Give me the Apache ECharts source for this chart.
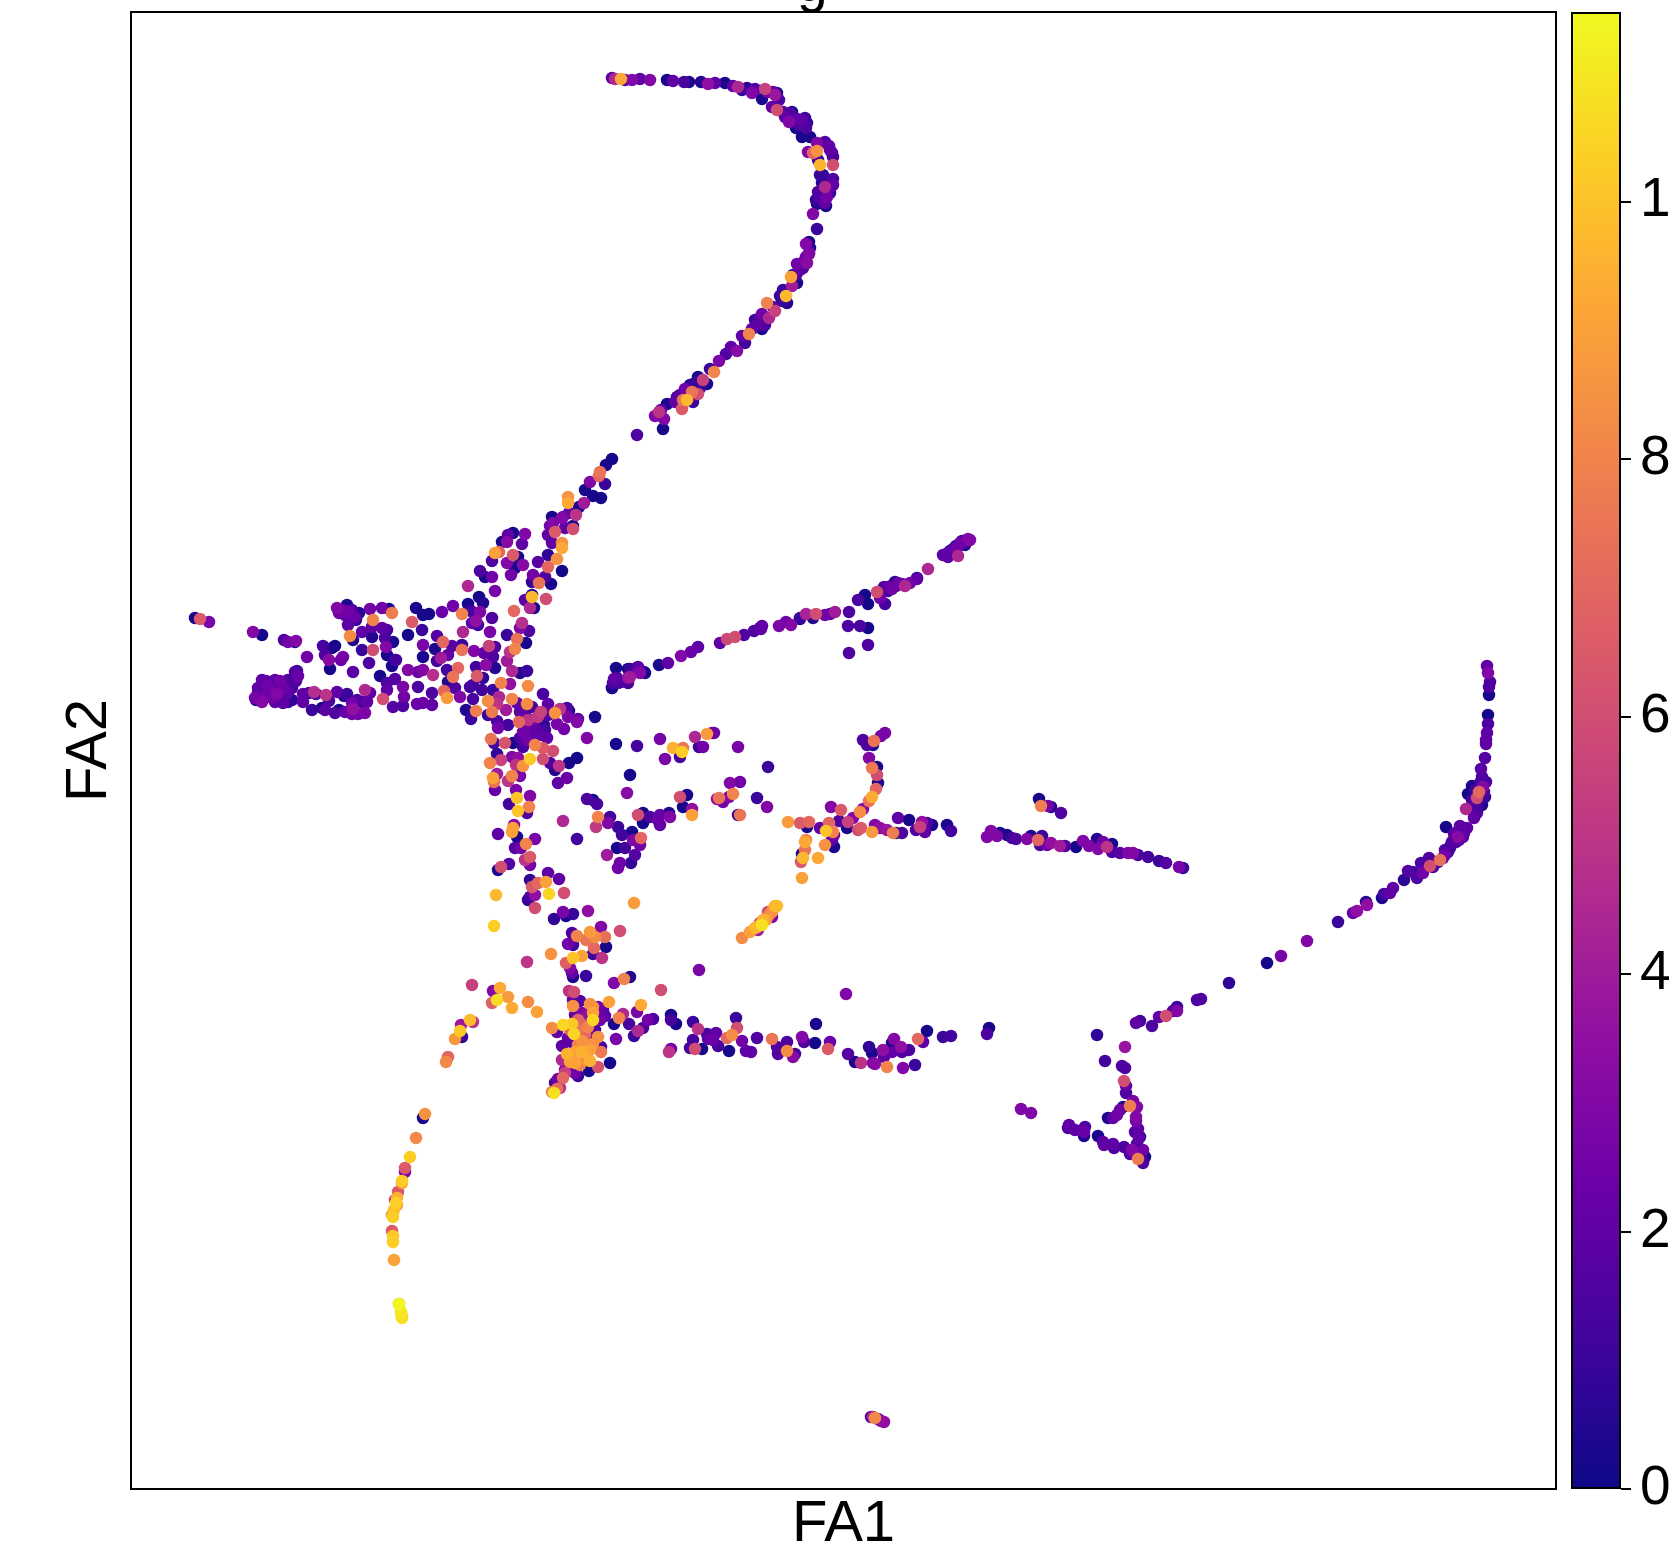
<!DOCTYPE html>
<html><head><meta charset="utf-8">
<style>html,body{margin:0;padding:0;background:#fff;overflow:hidden}#c{width:1672px;height:1552px}</style>
<script src="https://cdn.jsdelivr.net/npm/echarts@6/dist/echarts.min.js"></script>
</head><body><div id="c"></div>
<script>
// each cell: [FA1, FA2, expression]
const topArc=[[612,78,2],[615,79,4.5],[621,79,9.2],[625,80,1.5],[632,80,3],[640,79,2],[650,80,3],[667,80,.3],[673,81,2],[684,82,1.3],[689,82,.3],[701,82,.5],[708,84,3.5],[715,83,2],[725,83,.3],[733,86,2],[738,87,4.5],[747,88,.8],[752,93,3],[755,89,1.5],[762,99,.3],[765,89,5.5],[773,92,2],[775,95,3.8],[777,93,.5],[772,107,2],[777,110,6],[783,112,1.5],[790,113,1.5],[792,112,.3],[789,122,3],[797,119,2],[802,120,2],[807,123,1],[806,128,1.5],[796,128,.3],[802,137,.2],[810,137,.3],[817,143,3],[825,142,1.5],[808,152,3],[813,153,7],[817,151,8.5],[830,150,2],[833,157,1.5],[818,160,1],[820,165,9.6],[833,165,6],[820,175,1],[822,183,.5],[833,179,1.5],[833,185,2],[825,187,4.5],[818,192,1.5],[830,193,1],[827,197,2.5],[816,200,.8],[825,203,2],[817,204,.5],[826,206,.3],[813,214,3],[817,229,1],[809,242,.3],[806,244,3],[810,248,.5],[809,253,3],[800,125,1.5],[805,118,1],[779,100,1.5],[768,92,2.5],[742,90,1],[822,195,1.5],[828,188,2],[820,198,1.5],[823,175,1],[829,146,2],[832,153,1.5],[785,117,2]];
const midArc=[[809,254,2.5],[807,263,3.3],[797,264,2.5],[803,268,1.5],[793,275,.3],[791,277,9],[797,283,.3],[792,286,4],[783,290,1],[786,296,9.7],[782,301,1],[767,303,8],[773,307,1.8],[775,311,5.5],[762,314,2.5],[769,318,4.5],[759,322,1],[765,325,1.5],[762,329,.3],[752,329,2],[749,334,8],[742,336,2],[745,343,1.2],[731,347,2],[737,351,3.2],[726,354,1.5],[719,361,2.8],[710,369,1],[714,372,8],[698,377,.3],[703,380,5.5],[707,384,.3],[695,383,1],[685,389,2.5],[677,397,1.5],[692,392,7.5],[698,394,6],[683,400,7.5],[687,400,9.7],[682,409,6.5],[693,402,1],[667,404,.2],[661,410,2],[655,416,3],[659,412,5],[664,419,3],[663,429,.2],[637,435,1.5],[612,459,.2],[606,465,.2],[600,472,7.5],[599,476,7],[590,482,3],[605,484,1],[585,490,.2],[593,496,.2],[601,498,.2],[568,497,8.5],[568,503,9.2],[584,503,4],[579,507,.3],[569,513,2],[576,515,5],[562,518,3],[552,517,.2],[553,523,3],[550,526,2.5],[555,532,6.5],[573,529,6],[565,528,2],[573,526,.3],[760,318,1.5],[757,325,2],[755,320,1],[700,388,1],[693,396,1.5],[680,395,1.8],[675,402,2],[690,385,.5],[780,296,1],[787,303,.5],[796,275,1.5],[800,270,2],[805,260,2],[806,257,2.5]];
const junctionTop=[[563,517,2.5],[548,535,2],[552,543,2],[562,543,8.5],[562,548,9.2],[548,555,.8],[557,559,8.5],[538,562,1.8],[548,567,7],[562,571,.2],[533,575,2.5],[545,577,1.5],[532,582,.8],[539,583,7.5],[551,584,.3],[513,533,.2],[508,535,2],[525,534,3],[507,542,3.2],[502,542,.2],[522,544,2],[499,552,7],[495,553,9],[513,555,6.5],[518,557,.3],[507,563,3],[492,561,1.5],[515,568,.3],[523,565,3.2],[480,571,1.5],[485,577,.2],[492,577,2.5],[511,575,2.5],[468,586,4.5],[495,591,2.7],[532,595,.5],[532,597,9.7],[546,599,6],[525,600,1.8],[534,608,.3],[530,608,4.5],[514,611,7],[479,597,.2],[483,603,.5],[468,604,.2],[453,606,2.5],[442,612,2.3],[462,614,8],[471,611,1.3],[480,612,3],[492,618,1.5],[472,623,2],[478,625,1.2],[476,621,3.5],[522,623,4.8],[520,628,3],[529,631,1.5],[490,632,2.7],[463,632,4.5],[507,635,1],[517,639,7.5],[526,643,.2],[515,649,8],[510,652,5],[489,646,5.5],[495,647,1.5],[484,653,2],[474,651,3],[493,657,1.5],[507,661,4],[486,665,3.3],[495,668,.5],[476,667,1.2],[527,671,1],[512,671,4.5],[520,673,.5],[483,678,.8],[477,676,6.5],[473,685,1.3],[482,690,1.2],[528,686,8.3],[501,683,8],[510,684,3.5],[493,690,1],[499,697,4.5]];
const leftWing=[[337,608,3],[347,605,.3],[348,612,2.5],[359,613,.5],[370,609,2.5],[382,608,2.5],[389,609,.3],[392,613,7.8],[339,613,2.5],[348,625,2],[373,620,8],[372,627,2],[382,628,2],[387,630,1.5],[362,632,2],[350,636,8.3],[353,640,.5],[372,637,.5],[385,638,1.5],[393,642,.3],[386,647,3],[362,650,1],[373,650,6],[387,655,.3],[396,660,1.3],[369,663,1.5],[392,666,.3],[323,646,1.3],[335,646,.2],[332,648,.3],[307,657,2.5],[325,655,1.5],[329,660,3.2],[343,657,2.6],[341,660,2.3],[330,669,.2],[353,672,1.8],[416,608,.2],[423,615,.2],[429,614,.2],[412,622,6.5],[422,630,1],[408,635,.2],[437,636,1.7],[423,645,2.7],[443,642,7],[435,649,.4],[452,646,1.8],[462,645,1],[462,650,7.5],[441,658,4],[423,657,.3],[448,655,2],[437,661,1.2],[395,660,.8],[447,670,1.2],[458,668,7],[380,676,.2],[395,679,1.7],[408,670,3],[418,672,2.5],[423,670,3],[433,675,4.8],[453,677,7.5],[448,682,.5],[403,687,2.8],[387,683,1.5],[418,687,1.5],[387,690,2],[432,693,1.5],[404,697,2.5],[444,691,7],[455,688,1.5],[447,698,8.8],[460,697,3],[383,699,6],[393,707,1.7],[403,706,1.5],[417,704,2.3],[423,703,2.3],[432,705,2],[473,699,1.3],[470,687,1.3],[342,610,2.5],[345,615,2],[352,610,1.5],[355,617,2.2],[356,620,1]];
const farLeft=[[195,618,.2],[200,619,6.5],[209,622,2.7],[253,632,3],[262,635,.2],[284,640,1.5],[288,642,2.5],[296,641,3],[295,642,.2],[258,694,1.8],[262,689,1.5],[268,686,2.5],[275,680,2],[265,697,2.5],[280,681,2.5],[277,694,3],[283,688,2.3],[285,690,1.5],[288,680,1.5],[256,700,.8],[258,693,1.5],[255,698,2.6],[262,702,3],[275,702,1.8],[283,703,2],[278,698,2],[285,697,1.3],[288,702,.9],[295,672,1.5],[298,676,2.3],[297,671,1.2],[296,681,1.6],[288,692,2],[292,700,.7],[303,694,2],[309,693,1.3],[314,692,4.8],[303,702,2],[316,694,1.5],[322,708,.3],[312,710,1],[325,710,1.8],[335,713,1.5],[329,701,1.5],[339,710,.2],[337,692,2],[326,695,5],[344,696,.5],[347,694,1],[352,703,2.5],[357,700,1.5],[367,702,2],[362,702,1],[345,712,2.2],[352,714,2.5],[358,714,2.6],[365,713,2.8],[365,690,4.5],[370,693,2],[353,709,3.5],[262,680,2],[268,692,2.2],[272,698,2.5],[270,685,1.8],[276,690,2.2],[281,695,2],[278,686,1.5],[258,688,2],[266,681,1.5],[292,688,1.2]];
const junctionMid=[[466,710,.4],[476,711,7.8],[471,719,1],[488,701,8.3],[492,712,7.7],[497,704,5],[506,710,4],[512,699,8],[527,704,8.3],[517,703,2],[488,715,1],[497,721,1.5],[498,728,2.5],[508,725,1.2],[519,722,7],[528,720,5],[532,707,1.5],[543,694,1.3],[548,704,2],[541,712,5.5],[538,717,5.2],[544,725,.8],[555,713,8.5],[560,709,5],[567,708,1.5],[569,711,.3],[568,717,2.8],[578,719,2],[577,722,3],[595,717,.2],[557,724,2.7],[564,729,2.5],[587,738,3],[523,732,2.5],[527,732,2],[533,730,2],[520,738,1.5],[530,735,1.5],[547,738,2],[523,747,1.3],[513,743,.3],[491,739,7.5],[494,743,1.2],[505,743,6.3],[535,745,8],[543,748,6.5],[553,751,6],[497,754,.8],[501,760,5.5],[512,757,3],[518,758,3.5],[543,759,6],[530,759,10.2],[523,766,8.5],[516,765,5],[490,763,8],[550,763,1.5],[555,770,.4],[559,766,5],[569,763,.2],[577,758,.2],[520,712,2],[525,715,1.5],[530,725,1],[535,728,2],[540,735,2],[528,740,2.5],[533,720,2.5],[525,728,2.5],[545,730,1.3],[548,715,1.5]];
const junctionLow=[[497,774,4],[493,778,9],[494,782,7.5],[512,776,8],[520,776,2.7],[508,781,5],[558,783,2],[567,778,2.3],[495,790,2.2],[516,790,2.7],[517,798,10],[530,796,3],[509,804,1.2],[529,807,8],[518,811,10],[527,813,1.5],[514,825,3.3],[513,828,9],[512,832,9],[517,837,.3],[498,834,2],[535,839,2.7],[526,844,8],[515,848,1.7],[521,848,2.5],[530,857,6.5],[525,860,5],[530,865,2.7],[509,864,1.7],[501,867,6],[498,870,.3],[577,839,1.2],[563,821,4.5],[496,895,9.7],[548,873,2],[559,879,2],[532,887,6.5],[546,882,9],[538,883,7],[535,895,3.5],[549,894,10.5],[564,893,6],[530,880,.8],[530,897,1.3],[528,900,.8],[535,908,6],[494,926,10.3],[634,903,8.8],[554,919,.8],[563,912,2.7],[573,914,1],[566,916,.3],[588,911,3.5]];
const starCore=[[601,927,3],[620,931,6],[572,933,1.5],[577,936,8],[590,932,8.8],[586,940,7.5],[595,937,8.3],[605,937,7.3],[568,944,2.5],[573,945,1.3],[606,947,.2],[594,948,7],[593,954,1],[602,958,5],[551,954,8.5],[582,956,9],[573,958,10],[566,963,6.7],[527,962,5],[570,968,3],[572,973,2],[573,977,.2],[586,976,1],[630,977,.5],[624,979,8],[614,983,3],[699,970,2.8],[846,994,3],[661,990,6],[472,985,5.5],[569,991,5],[574,992,6],[580,1001,1.5],[573,1000,2],[590,1004,8.5],[609,1002,9],[598,1007,2.5],[641,1005,9.3],[573,1006,8.5],[593,1007,8.5],[582,1013,3],[575,1015,2],[605,1016,2],[593,1020,10.5],[593,1013,9],[623,1014,4.5],[619,1018,8],[637,1012,2.7],[614,1024,.3],[629,1024,1.3],[648,1020,2.5],[653,1019,1.5],[528,1002,8.3],[537,1012,9],[493,991,3],[500,988,9.3],[508,997,8.8],[492,1003,6.7],[497,1000,10.7],[512,1008,9.3],[552,1028,8.3],[557,1032,2],[563,1025,10.5],[572,1024,10.2],[583,1025,6.5],[578,1020,7],[588,1027,8],[574,1034,10.5],[595,1030,1.5],[590,1035,2.5],[598,1037,8.5],[638,1031,4.5],[643,1028,1.5],[634,1036,1],[616,1039,2.7],[562,1046,2],[573,1043,1.5],[582,1041,8.5],[593,1044,8.5],[601,1047,1.3],[567,1054,9.5],[582,1052,9.5],[570,1062,9],[575,1063,9],[590,1061,9.5],[601,1052,7.7],[562,1060,4.5],[598,1067,6.3],[610,1063,.2],[589,1071,.2],[578,1076,1],[575,1073,2.5],[565,1073,5.5],[563,1078,7],[558,1079,2.5],[555,1083,1.5],[560,1088,5],[557,1089,7.3],[552,1092,8],[554,1093,10.8],[570,1030,7],[578,1030,7.5],[585,1035,7],[578,1045,8],[575,1052,9],[585,1060,8.5],[590,1050,9],[580,1065,8],[572,1058,8.5],[568,1038,2],[565,1070,3],[588,1015,3.5],[600,1020,2.5],[603,1010,2]];
const lowerRow=[[671,1015,.2],[671,1020,1.3],[676,1024,.2],[693,1022,1],[698,1029,5],[707,1034,1.3],[716,1033,2],[713,1040,2.3],[708,1039,2],[718,1046,1.3],[736,1018,1],[737,1028,6],[732,1035,8.3],[727,1038,7],[742,1041,2.5],[757,1038,1.5],[693,1040,1.3],[690,1048,1.2],[695,1049,6],[702,1049,.2],[671,1049,2.5],[669,1052,5],[729,1051,.2],[746,1051,2],[751,1052,2],[772,1039,7.5],[777,1047,1.5],[787,1042,1.5],[778,1054,1.7],[787,1051,8.3],[795,1054,1.3],[793,1057,3.3],[802,1037,3],[804,1042,1.5],[816,1024,.2],[815,1043,.2],[830,1042,2.3],[828,1049,6.5],[848,1054,1.7],[855,1062,.3],[861,1063,5],[869,1047,.8],[872,1053,.3],[875,1064,3.2],[873,1063,3],[887,1067,8],[883,1050,3.5],[884,1057,2],[892,1043,.5],[894,1039,3],[892,1052,2],[901,1047,3.5],[902,1052,1.5],[909,1050,1.5],[903,1068,3],[915,1065,1],[918,1039,7],[923,1042,2],[927,1031,.2],[943,1037,1],[951,1036,1.2]];
const orangeStreak=[[775,906,9.5],[777,906,9.8],[772,912,8.3],[763,920,9.5],[760,923,5],[757,927,9.7],[762,925,10.8],[772,917,3],[750,932,9],[758,930,4],[742,938,8.3],[755,928,9.5],[766,920,9],[769,915,8],[768,912,6],[761,924,9.7],[773,910,8.5]];
const lowerLeft=[[461,1025,3.8],[470,1020,9.8],[473,1022,5],[460,1031,10.2],[462,1037,1],[455,1039,8.7],[448,1057,7],[446,1062,8.2],[423,1118,.2],[425,1114,8.5],[416,1138,8.2],[410,1157,10.3],[405,1172,3],[405,1168,6.5],[402,1183,9],[402,1181,10.3],[398,1192,6.5],[395,1200,5.5],[397,1198,9.5],[397,1205,9],[396,1203,10.4],[392,1215,8.7],[394,1210,10],[393,1217,10.3],[392,1231,6.5],[393,1236,10.2],[393,1242,10.3],[394,1260,9],[399,1304,7],[399,1304,11.4],[401,1312,11],[402,1317,9.5],[402,1318,10.8],[401,1313,11]];
const bottomBlob=[[871,1417,1.5],[873,1417,4.5],[875,1418,8.2],[878,1419,2],[881,1421,3],[884,1422,3.5]];
const middleLeft=[[616,668,.2],[630,669,.8],[638,667,1.8],[645,673,.2],[630,677,4],[639,672,2.7],[617,678,1.5],[613,683,1.5],[612,688,.3],[628,683,1.3],[616,744,.2],[637,746,1.2],[630,775,.2],[627,793,3.2],[587,799,1.5],[593,800,.3],[597,804,1.3],[598,817,8],[610,817,1.2],[608,823,3],[596,827,5.2],[618,827,1],[638,815,6],[643,813,.2],[643,823,.2],[622,835,1.2],[632,832,.3],[633,840,3],[641,838,7],[625,848,1.2],[617,848,.2],[635,855,1.7],[607,855,4],[631,863,.8],[620,863,2.5],[618,868,2.5],[650,817,1.5],[660,815,2],[669,813,.4],[670,817,3],[658,820,2.3],[660,825,2],[640,845,2.5]];
const middleSpray=[[660,739,2.7],[673,748,9.5],[683,748,7.5],[682,752,10.3],[680,757,1.3],[665,759,2.8],[695,737,4.5],[707,734,8.8],[712,733,2.5],[714,733,2.5],[699,747,1],[703,747,2.5],[738,747,2.7],[768,767,1],[730,783,3],[740,782,2.5],[717,799,3.5],[719,798,7.5],[723,802,2.5],[729,797,3],[733,794,8],[757,798,1],[767,807,3],[738,815,.6],[740,815,7.5],[687,795,.2],[680,797,6],[683,807,.2],[692,809,3.5],[692,815,9]];
const hookBranch=[[863,740,1.5],[885,733,2.7],[881,736,2.7],[867,745,1.5],[873,745,.4],[874,741,7.5],[869,758,3],[877,767,.3],[872,768,7.7],[877,775,6],[878,783,.4],[876,789,7],[872,797,9.3],[869,801,7.5],[863,809,3],[860,812,8.3],[853,818,3],[848,822,5.5],[847,828,.3],[839,821,1.5],[841,810,6.5],[831,807,3],[829,823,7],[820,828,2],[826,831,10],[833,832,8],[834,835,2.5],[832,840,1.8],[834,847,.3],[825,845,8.5],[788,822,8.8],[800,823,6.5],[809,822,7],[807,827,.3],[806,840,8],[805,842,9.2],[805,850,7.5],[802,854,.3],[803,858,9.7],[801,862,6.5],[818,858,9.2],[802,878,9]];
const centerRow=[[861,828,6.5],[858,830,6],[872,832,8.8],[875,825,3],[880,828,3.5],[887,830,3.8],[893,833,7.8],[896,833,.3],[902,833,1.5],[898,818,2],[909,820,.3],[922,822,3.5],[927,823,1.5],[932,825,.3],[916,830,1.5],[925,832,2],[920,827,5.5],[947,825,.2],[951,831,1.2],[987,837,3],[991,831,3],[997,836,3],[1000,833,.3],[1007,835,.3],[1012,838,1.2],[1016,839,1.5],[1027,839,3],[1031,836,.3],[1038,840,7],[1042,836,1],[1040,845,1.5],[1047,845,2.5],[1051,843,3.5],[1060,846,4],[1065,846,1.5],[1076,847,.2],[1083,841,3],[1089,846,3],[1097,839,.5],[1103,842,2.5],[1098,849,3],[1107,847,5],[1112,844,.3],[1112,852,1.5],[1120,853,1.7],[1128,853,3],[1133,853,3],[1138,855,1.5],[1148,857,1.3],[1159,861,1],[1166,863,1.7],[1179,867,2.7],[1183,868,1],[1039,799,.2],[1041,806,7.8],[1048,806,2.5],[1051,807,.5],[1061,813,1.5]];
const upperBranch=[[612,688,.3],[618,683,1.5],[614,679,2],[621,682,1],[628,678,3.6],[628,669,.2],[631,670,1],[637,668,1.5],[640,673,3],[644,672,.3],[659,665,.3],[668,663,2],[681,656,3],[691,652,2.3],[698,647,2],[720,643,2],[727,639,5.8],[735,637,6],[744,635,1.5],[754,631,1.5],[760,628,2],[761,629,2],[762,626,2],[779,626,2.8],[786,622,2.5],[791,625,3],[800,619,.2],[800,618,1],[806,614,4.3],[816,614,6],[813,618,.5],[825,615,2.5],[830,614,1.5],[835,612,4],[849,612,1.5],[848,626,1.5],[860,626,1.5],[868,628,.2],[849,653,1.5],[868,645,1.5],[858,600,1.5],[865,595,.2],[868,604,.2],[877,592,6],[880,598,2.5],[885,604,1.2],[884,587,1.5],[893,585,.4],[898,583,2.5],[905,586,4.5],[910,583,2.5],[917,579,2],[917,578,.6],[928,569,4.5],[943,555,2],[948,557,2],[950,553,.5],[957,548,2.5],[958,556,4.5],[965,545,.5],[968,540,2],[968,539,3],[948,553,2],[953,549,1.5],[956,546,.5],[960,543,2.5],[962,541,1],[965,542,2],[950,551,.3],[970,540,3],[888,587,2],[892,589,2.5],[896,586,2.5],[902,584,2],[888,591,1],[895,582,.5]];
const rightArm=[[1487,666,2],[1488,673,3],[1490,682,1.5],[1489,687,1.5],[1489,695,.2],[1488,715,.2],[1488,724,1.5],[1487,733,2],[1486,740,2],[1486,744,2],[1485,758,1.7],[1481,769,1.8],[1482,777,1.5],[1472,786,.2],[1483,787,3],[1479,792,7],[1468,794,.2],[1477,798,6],[1485,797,1],[1482,805,.4],[1466,809,4.5],[1473,811,1.5],[1477,813,1.5],[1474,818,2],[1460,826,2],[1467,828,2],[1446,827,.2],[1458,837,3.2],[1463,837,2],[1455,837,1.5],[1452,842,1.5],[1450,848,1.3],[1445,850,1.5],[1445,855,2.5],[1440,860,7.3],[1430,866,6],[1429,858,1.5],[1421,863,1.5],[1433,867,1.5],[1423,873,2.5],[1417,878,1.5],[1408,871,1.7],[1413,872,1],[1404,880,.7],[1393,888,2],[1390,893,2],[1384,894,1.3],[1382,898,.3],[1366,902,.6],[1367,905,3.5],[1357,911,3.5],[1353,913,2.3],[1338,922,1],[1307,941,3],[1281,956,2.7],[1462,830,2],[1464,833,1.5],[1457,832,2],[1454,834,2],[1459,840,1.5],[1451,845,1],[1456,842,1.8],[1448,852,1.2],[1443,858,2],[1438,862,1.5],[1473,805,1.5],[1478,806,.8],[1476,802,1.5],[1484,792,1.5],[1486,782,1.5],[1480,783,1.2],[1475,790,1],[1472,800,1.3]];
const lowerArm=[[1267,963,.2],[1229,983,.8],[1201,999,1.5],[1197,1000,1.5],[1177,1007,1],[1177,1011,3],[1173,1011,1.5],[1166,1016,6],[1159,1017,2],[1152,1026,1.5],[1140,1021,1.3],[1136,1023,2],[1125,1047,3.7],[1097,1035,.8],[1105,1061,1.2],[1122,1066,1.5],[1125,1068,1.5],[1124,1081,6],[1126,1086,2],[1126,1093,1.5],[1133,1101,2.7],[1130,1106,7.8],[1137,1107,3],[1123,1107,.5],[1120,1110,2.5],[1117,1115,2.5],[1113,1118,2],[1108,1118,.3],[1136,1117,3],[1136,1121,2.7],[1138,1129,2],[1135,1132,1.5],[1140,1137,.5],[1139,1138,2],[1137,1144,1.5],[989,1028,.2],[987,1034,1.5],[1021,1109,3],[1031,1113,3],[1069,1125,2],[1068,1128,1.5],[1075,1130,2],[1085,1127,1.5],[1084,1132,2.3],[1084,1136,.3],[1098,1136,.3],[1103,1142,2],[1104,1145,2],[1113,1144,2],[1114,1148,1.5],[1124,1147,1.5],[1130,1154,1.5],[1132,1150,3],[1143,1150,2.5],[1145,1157,.3],[1143,1163,1.5],[1138,1159,7.7]];

const colorbarMax=11.47;
const colorbarTicks=[0,2,4,6,8,10];
const plasma=['#0d0887','#41049d','#6a00a8','#8f0da4','#b12a90','#cc4778','#e16462','#f1844b','#fca636','#fcce25','#f0f921'];
const xTitle='FA1', yTitle='FA2', cutTitle='g';

const cells=[].concat(topArc,midArc,junctionTop,leftWing,farLeft,junctionMid,junctionLow,starCore,lowerRow,orangeStreak,lowerLeft,bottomBlob,middleLeft,middleSpray,hookBranch,centerRow,upperBranch,rightArm,lowerArm)
  .sort((a,b)=>a[2]-b[2]);

const font='"Liberation Sans", Arial, sans-serif';
const chart=echarts.init(document.getElementById('c'),null,{renderer:'canvas'});
chart.setOption({
  animation:false,
  backgroundColor:'#fff',
  title:{text:cutTitle,left:792,top:-47,textStyle:{fontFamily:font,fontSize:55,fontWeight:'normal',color:'#000'}},
  grid:[
    {left:131,top:12,width:1425,height:1477,show:true,borderColor:'#000',borderWidth:2,backgroundColor:'#fff',outerBoundsMode:'none'},
    {left:1571,top:12,width:50,height:1477,outerBoundsMode:'none'}
  ],
  xAxis:[
    {type:'value',gridIndex:0,min:131,max:1556,name:xTitle,nameLocation:'middle',nameGap:7,
     nameTextStyle:{fontFamily:font,fontSize:58,color:'#000'},
     axisLine:{show:false},axisTick:{show:false},axisLabel:{show:false},splitLine:{show:false}},
    {type:'category',gridIndex:1,data:[''],axisLine:{show:false},axisTick:{show:false},axisLabel:{show:false}}
  ],
  yAxis:[
    {type:'value',gridIndex:0,inverse:true,min:12,max:1489,name:yTitle,nameLocation:'middle',nameGap:12,nameRotate:90,
     nameTextStyle:{fontFamily:font,fontSize:58,color:'#000'},
     axisLine:{show:false},axisTick:{show:false},axisLabel:{show:false},splitLine:{show:false}},
    {type:'value',gridIndex:1,position:'right',min:0,max:colorbarMax,
     axisLine:{show:false},splitLine:{show:false},
     axisTick:{show:true,length:10,lineStyle:{color:'#000',width:2},customValues:colorbarTicks},
     axisLabel:{show:true,margin:19,fontFamily:font,fontSize:55,color:'#000',customValues:colorbarTicks,hideOverlap:false}}
  ],
  visualMap:{show:false,seriesIndex:0,dimension:2,min:0,max:colorbarMax,inRange:{color:plasma}},
  series:[
    {type:'scatter',xAxisIndex:0,yAxisIndex:0,data:cells,symbol:'circle',symbolSize:12.5,silent:true,
     itemStyle:{opacity:1,borderWidth:0},large:false,progressive:0},
    {type:'bar',xAxisIndex:1,yAxisIndex:1,data:[colorbarMax],barWidth:'100%',silent:true,
     itemStyle:{borderColor:'#000',borderWidth:2,
       color:new echarts.graphic.LinearGradient(0,1,0,0,plasma.map((c,i)=>({offset:i/(plasma.length-1),color:c})))}}
  ]
});
</script></body></html>
